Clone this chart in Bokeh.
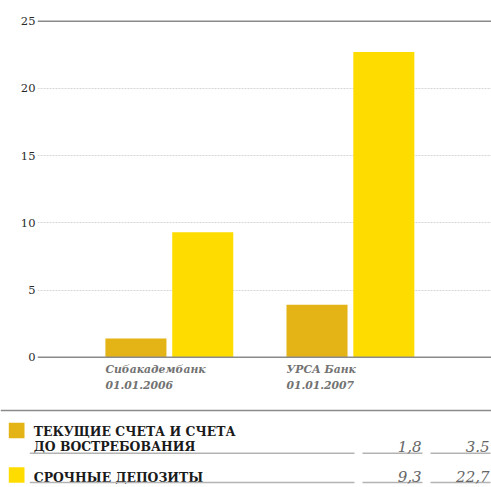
import numpy as np
from bokeh.plotting import figure
from bokeh.models import Range1d, FixedTicker, Span, Spacer
from bokeh.layouts import column, row
from bokeh.embed import file_html
from bokeh.resources import INLINE
from bokeh.core.properties import value

# ---- data ----
banks = ["Сибакадембанк", "УРСА Банк"]
dates = ["01.01.2006", "01.01.2007"]
series_names = [["ТЕКУЩИЕ СЧЕТА И СЧЕТА", "ДО ВОСТРЕБОВАНИЯ"], ["СРОЧНЫЕ ДЕПОЗИТЫ"]]
current_accounts = [1.4, 3.9]
term_deposits = [9.3, 22.7]
current_labels = ["1,8", "3.5"]
term_labels = ["9,3", "22,7"]
y_ticks = [0, 5, 10, 15, 20, 25]

# ---- style ----
COL_DARK = "#E4B316"
COL_YEL = "#FFDC00"
SERIF = "DejaVu Serif"
W = 491
H1 = 400
H2 = 87
LEFT = 37            # where the plotting area starts
PAD = 17             # blank space left of the y labels
PXU = 13.44          # pixels per unit on y
ZERO_Y = 356.7       # pixel row of the zero line

y_rng = Range1d(-(H1 - ZERO_Y) / PXU, ZERO_Y / PXU)

# ---------------- chart ----------------
p = figure(width=W - LEFT, height=H1, output_backend="svg", toolbar_location=None,
           x_range=Range1d(-0.728, 1.779), y_range=y_rng,
           x_axis_location=None, y_axis_location=None,
           min_border_left=0, min_border_right=0, min_border_top=0, min_border_bottom=0)
p.outline_line_color = None
p.background_fill_color = "white"
p.border_fill_color = "white"

p.xgrid.visible = False
p.ygrid.ticker = FixedTicker(ticks=y_ticks[1:-1])
p.ygrid.grid_line_color = "#d6d6d6"
p.ygrid.grid_line_dash = "2 1"
p.ygrid.grid_line_width = 1

for loc in (y_ticks[0], y_ticks[-1]):
    p.add_layout(Span(location=loc, dimension="width", line_color="#8a8a8a", line_width=1.5))

idx = np.arange(len(banks))
bar_w = 0.337
off = 0.1845
p.vbar(x=idx - off, top=current_accounts, bottom=0, width=bar_w, color=COL_DARK, line_color=None)
p.vbar(x=idx + off, top=term_deposits, bottom=0, width=bar_w, color=COL_YEL, line_color=None)

lx = idx - off - bar_w / 2
p.text(x=lx, y=[-(369 - ZERO_Y) / PXU] * len(banks), text=banks,
       text_align="left", text_baseline="middle", text_font=value(SERIF),
       text_font_style="bold italic", text_font_size="10.8px", text_color="#727272")
p.text(x=lx, y=[-(384 - ZERO_Y) / PXU] * len(dates), text=dates,
       text_align="left", text_baseline="middle", text_font=value(SERIF),
       text_font_style="bold italic", text_font_size="10.8px", text_color="#727272")

# ---------------- y axis strip ----------------
a = figure(width=LEFT - PAD, height=H1, output_backend="svg", toolbar_location=None,
           x_range=Range1d(0, 1), y_range=y_rng, x_axis_location=None,
           min_border_left=0, min_border_right=0, min_border_top=0, min_border_bottom=0)
a.outline_line_color = None
a.grid.visible = False
a.background_fill_color = "white"
a.border_fill_color = "white"
a.yaxis.ticker = FixedTicker(ticks=y_ticks)
a.yaxis.axis_line_color = None
a.yaxis.major_tick_line_color = None
a.yaxis.minor_tick_line_color = None
a.yaxis.major_tick_out = 0
a.yaxis.major_tick_in = 0
a.yaxis.minor_tick_out = 0
a.yaxis.minor_tick_in = 0
a.yaxis.major_label_text_font = SERIF
a.yaxis.major_label_text_font_size = "11.5px"
a.yaxis.major_label_text_color = "#2a2a2a"
a.yaxis.major_label_standoff = 2

# ---------------- table legend ----------------
t = figure(width=W, height=H2, output_backend="svg", toolbar_location=None,
           x_range=Range1d(0, W), y_range=Range1d(487, 400),
           x_axis_location=None, y_axis_location=None,
           min_border_left=0, min_border_right=0, min_border_top=0, min_border_bottom=0)
t.outline_line_color = None
t.grid.visible = False
t.background_fill_color = "white"
t.border_fill_color = "white"

t.segment(x0=[0], y0=[410], x1=[W], y1=[410], line_color="#8a8a8a", line_width=1.5)

row_sq_top = [422.3, 466.7]
row_text_y = [431, 476.5]
row_line_y = [452.7, 481.9]
row_val_y = [445.5, 475.5]
colors = [COL_DARK, COL_YEL]
value_rows = [current_labels, term_labels]
val_right = [421, 489]
seg_x = [(29.3, 354), (362, 422), (430, 490)]

for r in range(2):
    t.quad(left=[8.3], right=[24], top=[row_sq_top[r]], bottom=[row_sq_top[r] + 15.5],
           color=colors[r], line_color=None)
    lines = series_names[r]
    t.text(x=[33.3] * len(lines), y=[row_text_y[r] + 15 * k for k in range(len(lines))],
           text=lines, text_align="left", text_baseline="middle",
           text_font=value(SERIF), text_font_style="bold", text_font_size="12.4px",
           text_color="#1a1a1a")
    t.segment(x0=[a_ for a_, b_ in seg_x], x1=[b_ for a_, b_ in seg_x],
              y0=[row_line_y[r]] * 3, y1=[row_line_y[r]] * 3,
              line_color="#b3b3b3", line_width=1.5)
    t.text(x=val_right, y=[row_val_y[r]] * 2, text=value_rows[r],
           text_align="right", text_baseline="middle", text_font=value(SERIF),
           text_font_style="italic", text_font_size="15px", text_color="#666666")

layout = column(row(Spacer(width=PAD, height=H1), a, p), row(t))
open("out.html", "w").write(file_html(layout, INLINE))
